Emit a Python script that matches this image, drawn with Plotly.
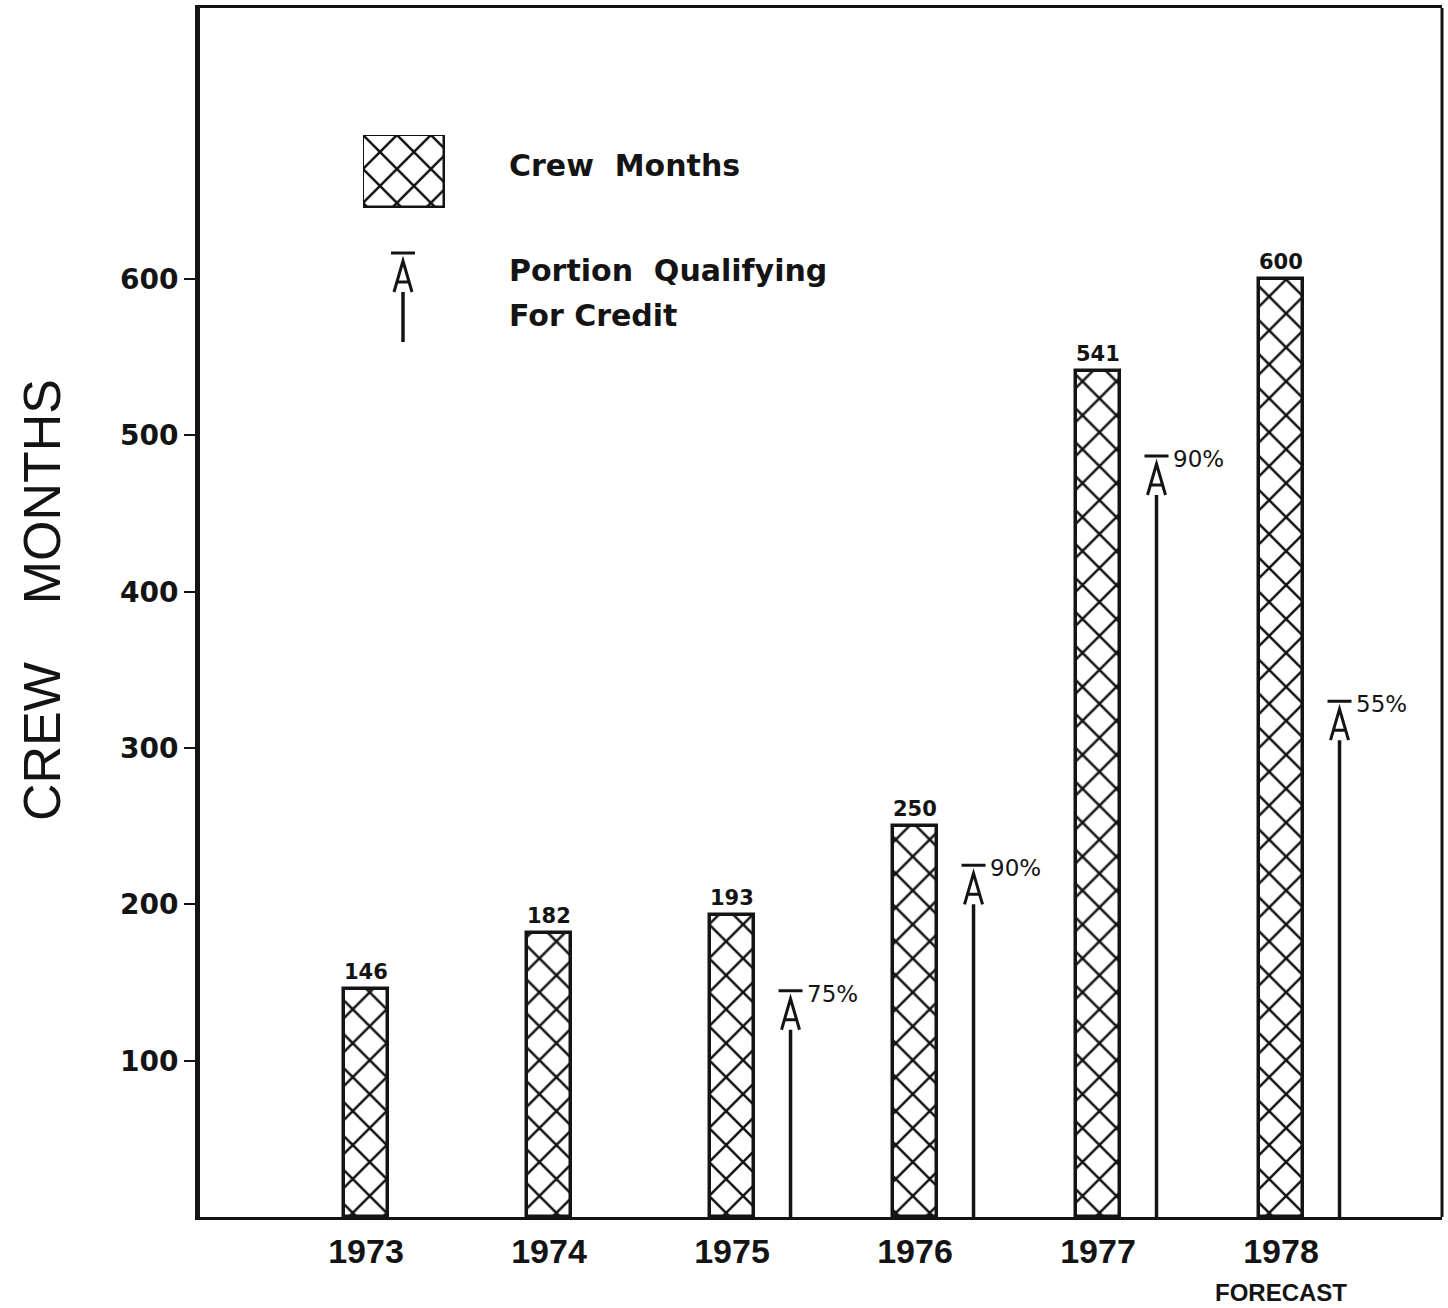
import plotly.graph_objects as go

# ---- data ----
years = ["1973", "1974", "1975", "1976", "1977", "1978"]
crew_months = [146, 182, 193, 250, 541, 600]
qualifying_pct = [None, None, 75, 90, 90, 55]
y_ticks = [100, 200, 300, 400, 500, 600]

# ---- geometry ----
W, H = 1448, 1308
M_L, M_R, M_T, M_B = 200, 6, 8, 91
PLOT_W = W - M_L - M_R
PLOT_H = H - M_T - M_B
Y_MAX = 773.5
X_MIN, X_MAX = -0.907, 5.88
BAR_W = 0.24
ARROW_DX = 0.32
UNITS_PER_PX = Y_MAX / PLOT_H

INK = "#141414"
xs = list(range(len(years)))

hatch = dict(shape="x", size=24, solidity=0.2, fgcolor=INK, bgcolor="white", fillmode="replace")

fig = go.Figure()

fig.add_trace(go.Bar(
    x=xs, y=crew_months, width=BAR_W,
    marker=dict(color="white", line=dict(color=INK, width=3.5), pattern=hatch),
    showlegend=False, hoverinfo="skip",
))

# legend swatch drawn as a tiny bar in its own subplot
LX0, LX1, LY0, LY1 = 363, 445, 135, 208
fig.add_trace(go.Bar(
    x=[0], y=[1], width=1, xaxis="x2", yaxis="y2", cliponaxis=False,
    marker=dict(color="white", line=dict(color=INK, width=3.5), pattern=hatch),
    showlegend=False, hoverinfo="skip",
))

shapes = []
annotations = []

# value labels over the bars
for x, v in zip(xs, crew_months):
    annotations.append(dict(
        x=x, y=v, xref="x", yref="y", text=str(v), showarrow=False,
        yanchor="bottom", yshift=3,
        font=dict(family="DejaVu Sans", size=21, color=INK, weight="bold"),
    ))

def arrow_head(xref, x, yref, y):
    return dict(
        type="path", xref=xref, yref=yref,
        xsizemode="pixel", ysizemode="pixel", xanchor=x, yanchor=y,
        path="M-12,0 L12,0 M-9,-39 L0,-8 L9,-39 M-6,-29 L6,-29",
        line=dict(color=INK, width=3),
    )

# qualifying-portion arrows
for x, v, p in zip(xs, crew_months, qualifying_pct):
    if p is None:
        continue
    q = v * p / 100.0
    ax = x + ARROW_DX
    shapes.append(dict(type="line", xref="x", yref="y", x0=ax, x1=ax,
                       y0=0, y1=q - 39 * UNITS_PER_PX,
                       line=dict(color=INK, width=3.5)))
    shapes.append(arrow_head("x", ax, "y", q))
    annotations.append(dict(
        x=ax, y=q, xref="x", yref="y", text=f"{p}%", showarrow=False,
        xanchor="left", yanchor="middle", xshift=14, yshift=-3,
        font=dict(family="DejaVu Sans", size=23, color=INK),
    ))

# frame: right border
shapes.append(dict(type="line", xref="paper", yref="paper", x0=1, x1=1, y0=0, y1=1,
                   line=dict(color=INK, width=3)))

# legend arrow
def px_x(px):
    return (px - M_L) / PLOT_W

def px_y(py):
    return 1 - (py - M_T) / PLOT_H

shapes.append(dict(type="line", xref="paper", yref="paper",
                   x0=px_x(403), x1=px_x(403), y0=px_y(292), y1=px_y(342),
                   line=dict(color=INK, width=3.5)))
shapes.append(arrow_head("paper", px_x(403), "paper", px_y(253)))

legend_font = dict(family="DejaVu Sans", size=30, color=INK, weight="bold")
annotations.append(dict(x=px_x(507), y=px_y(165), xref="paper", yref="paper",
                        text="Crew\u00a0\u00a0Months", showarrow=False,
                        xanchor="left", yanchor="middle", font=legend_font))
annotations.append(dict(x=px_x(507), y=px_y(270), xref="paper", yref="paper",
                        text="Portion\u00a0\u00a0Qualifying", showarrow=False,
                        xanchor="left", yanchor="middle", font=legend_font))
annotations.append(dict(x=px_x(507), y=px_y(315), xref="paper", yref="paper",
                        text="For\u00a0Credit", showarrow=False,
                        xanchor="left", yanchor="middle", font=legend_font))

# y-axis title
annotations.append(dict(x=px_x(42), y=px_y(600), xref="paper", yref="paper",
                        text="CREW\u00a0\u00a0\u00a0\u00a0MONTHS", showarrow=False, textangle=-90,
                        xanchor="center", yanchor="middle",
                        font=dict(family="Liberation Sans", size=52, color=INK)))

# forecast note under the last year
annotations.append(dict(x=5, y=px_y(1292), xref="x", yref="paper",
                        text="FORECAST", showarrow=False,
                        xanchor="center", yanchor="middle",
                        font=dict(family="Liberation Sans", size=24, color=INK, weight="bold")))

fig.update_layout(
    width=W, height=H,
    margin=dict(l=M_L, r=M_R, t=M_T, b=M_B),
    paper_bgcolor="white", plot_bgcolor="white",
    xaxis=dict(
        range=[X_MIN, X_MAX], tickvals=xs, ticktext=years,
        showgrid=False, zeroline=False, ticks="",
        showline=True, linecolor=INK, linewidth=2.5, mirror=True,
        ticklabelstandoff=2,
        tickfont=dict(family="Liberation Sans", size=34, color=INK, weight="bold"),
    ),
    yaxis=dict(
        range=[0, Y_MAX], tickvals=y_ticks, ticktext=[str(t) for t in y_ticks],
        showgrid=False, zeroline=False,
        ticks="outside", ticklen=11, tickwidth=2, tickcolor=INK,
        showline=True, linecolor=INK, linewidth=5,
        tickfont=dict(family="DejaVu Sans", size=28, color=INK, weight="bold"),
    ),
    xaxis2=dict(domain=[px_x(LX0), px_x(LX1)], range=[-0.5, 0.5], anchor="y2",
                visible=False, fixedrange=True),
    yaxis2=dict(domain=[px_y(LY1), px_y(LY0)], range=[0, 1], anchor="x2",
                visible=False, fixedrange=True),
    shapes=shapes,
    annotations=annotations,
    bargap=0,
)

fig.write_html("out.html")
